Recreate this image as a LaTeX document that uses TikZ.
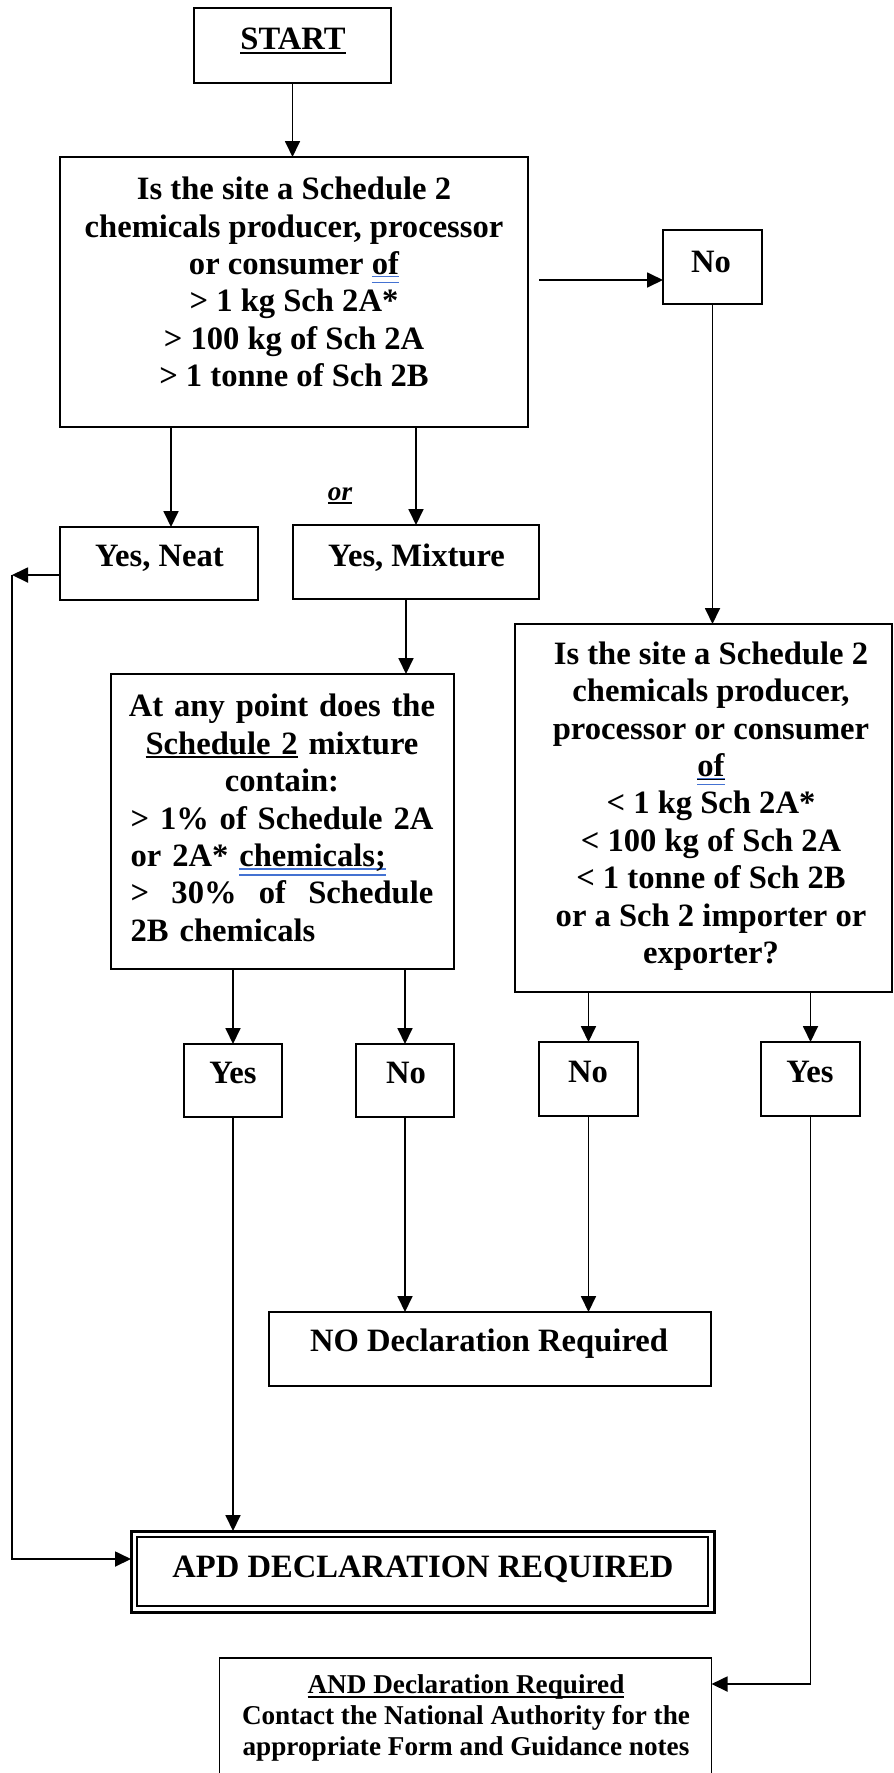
\documentclass[tikz,border=0pt]{standalone}
\usepackage{fontspec}
\setmainfont{Liberation Serif}
\usetikzlibrary{arrows.meta}
\definecolor{ulblue}{RGB}{68,114,210}
\newsavebox\ulbox
\newcommand\ulk[1]{\sbox\ulbox{#1}\rlap{\rule[-4pt]{\wd\ulbox}{2pt}}\usebox\ulbox}
\newcommand\blueul[1]{\sbox\ulbox{#1}\rlap{\textcolor{ulblue}{\rule[-3pt]{\wd\ulbox}{1.3pt}}}\rlap{\textcolor{ulblue}{\rule[-9pt]{\wd\ulbox}{1.3pt}}}\usebox\ulbox}
\begin{document}
\begin{tikzpicture}[x=1pt,y=-1pt,
  box/.style={draw, line width=1.5pt, inner sep=0pt, outer sep=0pt},
  txt/.style={font=\fontsize{32.6}{37.4}\selectfont\bfseries, align=center, inner sep=0pt},
  smalltxt/.style={font=\fontsize{27.2}{31}\selectfont\bfseries, align=center, inner sep=0pt},
  arr/.style={line width=1.8pt, -{Triangle[length=16pt,width=15pt]}},
  ln/.style={line width=1.8pt}]
\useasboundingbox (0,0) rectangle (894,1773);
\clip (0,0) rectangle (894,1773);
\fill[white] (0,0) rectangle (894,1773);

% boxes
\node[box, minimum width=197pt, minimum height=75pt] (start) at (292.5,45.5) {};
\node[box, minimum width=468pt, minimum height=270pt] (q1) at (294,292) {};
\node[box, minimum width=99pt, minimum height=74pt] (no0) at (712.5,267) {};
\node[box, minimum width=198pt, minimum height=73pt] (yesneat) at (159,563.5) {};
\node[box, minimum width=246pt, minimum height=74pt] (yesmix) at (416,562) {};
\node[box, minimum width=343pt, minimum height=295pt] (q3) at (282.5,821.5) {};
\node[box, minimum width=377pt, minimum height=368pt] (q2) at (703.5,808) {};
\node[box, minimum width=98pt, minimum height=73pt] (yes1) at (233,1080.5) {};
\node[box, minimum width=98pt, minimum height=73pt] (no1) at (405,1080.5) {};
\node[box, minimum width=99pt, minimum height=74pt] (no2) at (588.5,1079) {};
\node[box, minimum width=99pt, minimum height=74pt] (yes2) at (810.5,1079) {};
\node[box, minimum width=442pt, minimum height=74pt] (nod) at (490,1349) {};
\node[box, line width=3pt, minimum width=583pt, minimum height=81pt] (apd) at (422.5,1571.5) {};
\node[box, minimum width=571pt, minimum height=69pt] (apdin) at (422.5,1571.5) {};
\node[box, minimum width=492pt, minimum height=142pt] (andd) at (465.5,1729) {};

% texts
\node[txt] (startt) at (293,41) {\ulk{START}};
\node[txt] (q1t) at (294,282) {Is the site a Schedule 2\\ chemicals producer, processor\\ or consumer \blueul{of}\\ > 1 kg Sch 2A*\\ > 100 kg of Sch 2A\\ > 1 tonne of Sch 2B};
\node[txt] (no0t) at (711,262) {No};
\node[txt] (yesneatt) at (159.5,558) {Yes, Neat};
\node[txt] (yesmixt) at (416.5,558) {Yes, Mixture};
\node[smalltxt, font=\fontsize{27.2}{31}\selectfont\bfseries\itshape] (ort) at (340,496) {\ulk{or}};
\node[txt, text width=302.7pt, align=left] (q3t) at (282,818) {%
\makebox[\linewidth][c]{At any point does the}\\
\makebox[\linewidth][c]{\ulk{Schedule 2} mixture}\\
\makebox[\linewidth][c]{contain:}\\
\makebox[\linewidth][l]{>\hfill 1\%\hfill of\hfill Schedule\hfill 2A}\\
\makebox[\linewidth][l]{or 2A* \blueul{chemicals;}}\\
\makebox[\linewidth][l]{>\hfill 30\%\hfill of\hfill Schedule}\\
\makebox[\linewidth][l]{2B chemicals}};
\node[txt] (q2t) at (711,806) {Is the site a Schedule 2\\ chemicals producer,\\ processor or consumer\\ \ulk{\blueul{of}}\\ < 1 kg Sch 2A*\\ < 100 kg of Sch 2A\\ < 1 tonne of Sch 2B\\ or a Sch 2 importer or\\ exporter?};
\node[txt] (yes1t) at (233,1073) {Yes};
\node[txt] (no1t) at (406,1073) {No};
\node[txt] (no2t) at (588,1072) {No};
\node[txt] (yes2t) at (810,1072) {Yes};
\node[txt] (nodt) at (489,1344) {NO Declaration Required};
\node[txt] (apdt) at (423,1569) {APD DECLARATION REQUIRED};
\node[smalltxt] (andt) at (466,1718) {\ulk{AND Declaration Required}\\ Contact the National Authority for the\\ appropriate Form and Guidance notes};

% connectors
\coordinate (nofrom) at (539,280);
\coordinate (lc) at (12,575);
\coordinate (lb) at (12,1559);
\coordinate (rb) at (810,1684);
\draw[arr] (start.south) -- (start.south |- q1.north);
\draw[arr] (nofrom) -- (nofrom -| no0.west);
\draw[arr] (no0.south) -- (no0.south |- q2.north);
\draw[arr] ([xshift=12pt]yesneat.north |- q1.south) -- ([xshift=12pt]yesneat.north);
\draw[arr] (yesmix.north |- q1.south) -- (yesmix.north);
\draw[arr] ([xshift=-10pt]yesmix.south) -- ([xshift=-10pt]yesmix.south |- q3.north);
\draw[arr] (yes1.north |- q3.south) -- (yes1.north);
\draw[arr] (no1.north |- q3.south) -- (no1.north);
\draw[arr] (no2.north |- q2.south) -- (no2.north);
\draw[arr] (yes2.north |- q2.south) -- (yes2.north);
\draw[arr] (no1.south) -- (no1.south |- nod.north);
\draw[arr] (no2.south) -- (no2.south |- nod.north);
\draw[arr] (yes1.south) -- (yes1.south |- apd.north);
\draw[arr] (yesneat.west |- lc) -- (lc);
\draw[arr] (lc) -- (lb) -- (lb -| apd.west);
\draw[arr] (yes2.south) -- (yes2.south |- rb) -- (rb -| andd.east);
\end{tikzpicture}
\end{document}
